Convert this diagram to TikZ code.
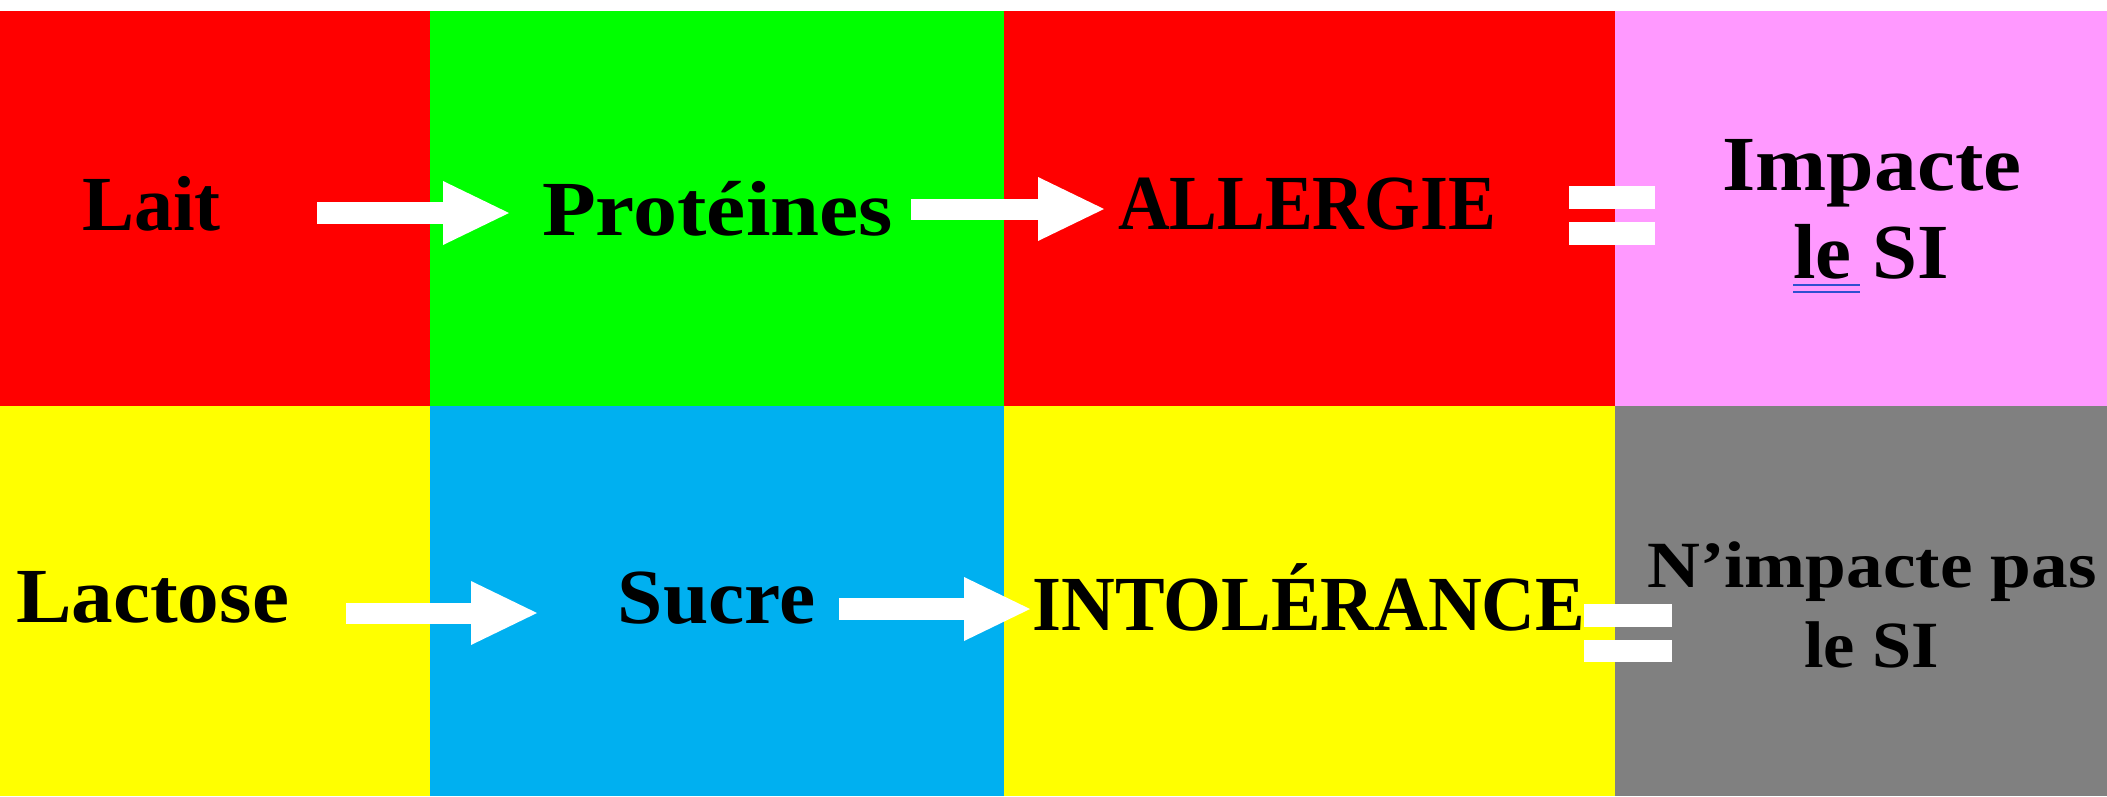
\documentclass[tikz,border=0pt]{standalone}
\usepackage{fontspec}
\usepackage{graphicx}
\setmainfont{Liberation Serif}
\usetikzlibrary{arrows.meta}
\definecolor{cRed}{HTML}{FF0000}
\definecolor{cGreen}{HTML}{00FF00}
\definecolor{cPink}{HTML}{FF99FF}
\definecolor{cYellow}{HTML}{FFFF00}
\definecolor{cBlue}{HTML}{00B0F0}
\definecolor{cGray}{HTML}{808080}
\definecolor{cUline}{HTML}{2F4FD0}
\newcommand\wfit[2]{\scalebox{#1}[1]{#2}}
\tikzset{
  lbl/.style={font=\bfseries\fontsize{78}{90}\selectfont, text=black, inner sep=0pt, anchor=base},
  lblsm/.style={font=\bfseries\fontsize{66}{78}\selectfont, text=black, inner sep=0pt, anchor=base},
  blockarrow/.style={draw=white, line width=#1, -{Triangle[length=66pt,width=64pt,line width=0pt]}},
  eqbar/.style={fill=white},
  uline/.style={draw=cUline, line width=2.8pt},
}
\begin{document}
\begin{tikzpicture}[x=1pt,y=-1pt]
\useasboundingbox (0,0) rectangle (2107,796);
\fill[white] (0,0) rectangle (2107,796);
% cells
\fill[cRed]    (0,11)    rectangle (430,406);
\fill[cGreen]  (430,11)  rectangle (1004,406);
\fill[cRed]    (1004,11) rectangle (1615,406);
\fill[cPink]   (1615,11) rectangle (2107,406);
\fill[cYellow] (0,406)   rectangle (430,796);
\fill[cBlue]   (430,406) rectangle (1004,796);
\fill[cYellow] (1004,406) rectangle (1615,796);
\fill[cGray]   (1615,406) rectangle (2107,796);
% labels
\node[lbl] (lait) at (151.5,230) {Lait};
\node[lbl] (prot) at (717.5,235) {\wfit{1.13}{Protéines}};
\node[lbl] (allg) at (1307,229) {\wfit{0.918}{ALLERGIE}};
\node[lbl] (imp1) at (1872,190) {\wfit{1.096}{Impacte}};
\node[lbl] (imp2) at (1871,278) {\wfit{1.037}{le SI}};
\node[lbl] (lact) at (152.5,622) {\wfit{1.068}{Lactose}};
\node[lbl] (sucr) at (716.5,623) {\wfit{1.044}{Sucre}};
\node[lbl] (into) at (1309,630) {\wfit{0.954}{INTOLÉRANCE}};
\node[lblsm] (nimp1) at (1872,587) {\wfit{1.11}{N’impacte pas}};
\node[lblsm] (nimp2) at (1871.5,667) {\wfit{1.067}{le SI}};
% grammar underline under "le"
\draw[uline] (1793,285) -- (1860,285);
\draw[uline] (1793,292) -- (1860,292);
% arrows
\coordinate (a1s) at (317,213);  \coordinate (a1e) at (509,213);
\coordinate (a2s) at (911,209);  \coordinate (a2e) at (1104,209);
\coordinate (a3s) at (346,613);  \coordinate (a3e) at (537,613);
\coordinate (a4s) at (839,609);  \coordinate (a4e) at (1030,609);
\draw[blockarrow=22pt] (a1s) -- (a1e);
\draw[blockarrow=21pt] (a2s) -- (a2e);
\draw[blockarrow=21pt] (a3s) -- (a3e);
\draw[blockarrow=22pt] (a4s) -- (a4e);
% equals signs
\fill[eqbar] (1569,186) rectangle (1655,209);
\fill[eqbar] (1569,222) rectangle (1655,245);
\fill[eqbar] (1584,604) rectangle (1672,627);
\fill[eqbar] (1584,640) rectangle (1672,662);
\end{tikzpicture}
\end{document}
